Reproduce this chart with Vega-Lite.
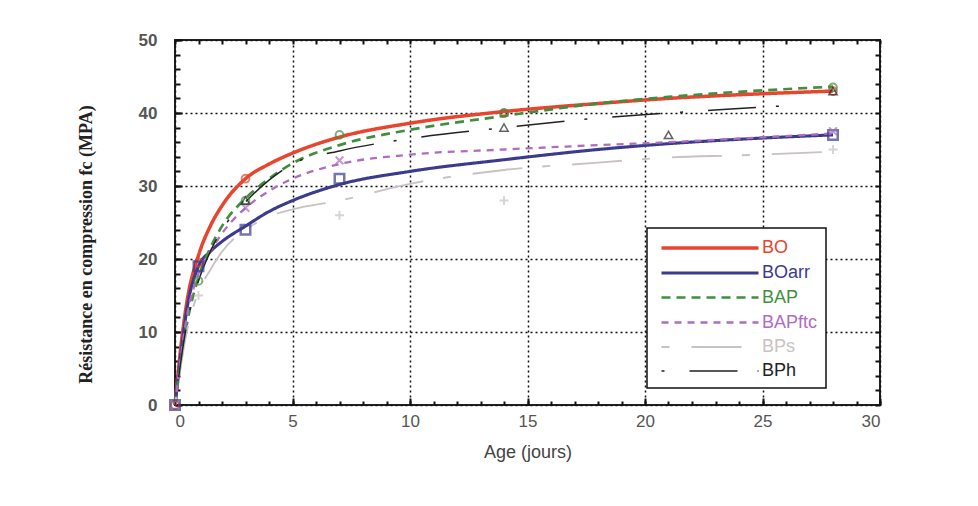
{
  "$schema": "https://vega.github.io/schema/vega-lite/v6.json",
  "autosize": {"type": "none"},
  "padding": {"left": 175, "top": 40, "right": 98, "bottom": 101},
  "width": 705,
  "height": 365,
  "background": "white",
  "config": {"view": {"stroke": "#222", "strokeWidth": 2}},
  "datasets": {
    "curves": [
      {"series": "BO", "t": 0, "v": 0}, {"series": "BO", "t": 0.25, "v": 8}, {"series": "BO", "t": 0.5, "v": 14}, {"series": "BO", "t": 1, "v": 20.5}, {"series": "BO", "t": 1.5, "v": 24.5}, {"series": "BO", "t": 2, "v": 27.3}, {"series": "BO", "t": 3, "v": 31}, {"series": "BO", "t": 4, "v": 33}, {"series": "BO", "t": 5, "v": 34.5}, {"series": "BO", "t": 7, "v": 36.7}, {"series": "BO", "t": 10, "v": 38.6}, {"series": "BO", "t": 14, "v": 40.2}, {"series": "BO", "t": 18, "v": 41.3}, {"series": "BO", "t": 21, "v": 42}, {"series": "BO", "t": 24, "v": 42.5}, {"series": "BO", "t": 28, "v": 43},
      {"series": "BOarr", "t": 0, "v": 0}, {"series": "BOarr", "t": 0.25, "v": 7}, {"series": "BOarr", "t": 0.5, "v": 13}, {"series": "BOarr", "t": 1, "v": 19}, {"series": "BOarr", "t": 1.5, "v": 21}, {"series": "BOarr", "t": 2, "v": 22.4}, {"series": "BOarr", "t": 3, "v": 24.5}, {"series": "BOarr", "t": 4, "v": 26.5}, {"series": "BOarr", "t": 5, "v": 28}, {"series": "BOarr", "t": 7, "v": 30.2}, {"series": "BOarr", "t": 10, "v": 32}, {"series": "BOarr", "t": 14, "v": 33.6}, {"series": "BOarr", "t": 18, "v": 35}, {"series": "BOarr", "t": 21, "v": 35.8}, {"series": "BOarr", "t": 24, "v": 36.4}, {"series": "BOarr", "t": 28, "v": 37},
      {"series": "BAP", "t": 0, "v": 0}, {"series": "BAP", "t": 0.25, "v": 6}, {"series": "BAP", "t": 0.5, "v": 11}, {"series": "BAP", "t": 1, "v": 17.5}, {"series": "BAP", "t": 1.5, "v": 21.5}, {"series": "BAP", "t": 2, "v": 24.5}, {"series": "BAP", "t": 3, "v": 28.3}, {"series": "BAP", "t": 4, "v": 31}, {"series": "BAP", "t": 5, "v": 33.1}, {"series": "BAP", "t": 7, "v": 35.6}, {"series": "BAP", "t": 10, "v": 37.7}, {"series": "BAP", "t": 14, "v": 39.6}, {"series": "BAP", "t": 18, "v": 41.3}, {"series": "BAP", "t": 21, "v": 42.2}, {"series": "BAP", "t": 24, "v": 42.9}, {"series": "BAP", "t": 28, "v": 43.6},
      {"series": "BAPftc", "t": 0, "v": 0}, {"series": "BAPftc", "t": 0.5, "v": 12}, {"series": "BAPftc", "t": 1, "v": 18}, {"series": "BAPftc", "t": 1.5, "v": 21}, {"series": "BAPftc", "t": 2, "v": 23.5}, {"series": "BAPftc", "t": 3, "v": 27}, {"series": "BAPftc", "t": 4, "v": 29.3}, {"series": "BAPftc", "t": 5, "v": 31}, {"series": "BAPftc", "t": 7, "v": 33}, {"series": "BAPftc", "t": 10, "v": 34.3}, {"series": "BAPftc", "t": 14, "v": 35}, {"series": "BAPftc", "t": 18, "v": 35.6}, {"series": "BAPftc", "t": 21, "v": 36}, {"series": "BAPftc", "t": 24, "v": 36.5}, {"series": "BAPftc", "t": 28, "v": 37.2},
      {"series": "BPs", "t": 0, "v": 0}, {"series": "BPs", "t": 0.5, "v": 10}, {"series": "BPs", "t": 1, "v": 15.5}, {"series": "BPs", "t": 1.5, "v": 18.5}, {"series": "BPs", "t": 2, "v": 21}, {"series": "BPs", "t": 3, "v": 24}, {"series": "BPs", "t": 4, "v": 25.8}, {"series": "BPs", "t": 5, "v": 26.8}, {"series": "BPs", "t": 7, "v": 28}, {"series": "BPs", "t": 10, "v": 30.3}, {"series": "BPs", "t": 14, "v": 32.2}, {"series": "BPs", "t": 18, "v": 33.2}, {"series": "BPs", "t": 21, "v": 33.9}, {"series": "BPs", "t": 24, "v": 34.2}, {"series": "BPs", "t": 28, "v": 34.7},
      {"series": "BPh", "t": 0, "v": 0}, {"series": "BPh", "t": 0.5, "v": 11}, {"series": "BPh", "t": 1, "v": 17}, {"series": "BPh", "t": 1.5, "v": 21}, {"series": "BPh", "t": 2, "v": 24}, {"series": "BPh", "t": 3, "v": 27.8}, {"series": "BPh", "t": 4, "v": 30.8}, {"series": "BPh", "t": 5, "v": 33}, {"series": "BPh", "t": 7, "v": 34.8}, {"series": "BPh", "t": 10, "v": 36.5}, {"series": "BPh", "t": 14, "v": 38}, {"series": "BPh", "t": 18, "v": 39.3}, {"series": "BPh", "t": 21, "v": 40}, {"series": "BPh", "t": 24, "v": 40.6}, {"series": "BPh", "t": 26.5, "v": 41.1}
    ],
    "points": [
      {"series": "BO", "t": 0, "v": 0}, {"series": "BO", "t": 1, "v": 19.5}, {"series": "BO", "t": 3, "v": 31}, {"series": "BO", "t": 14, "v": 40}, {"series": "BO", "t": 28, "v": 43},
      {"series": "BOarr", "t": 0, "v": 0}, {"series": "BOarr", "t": 1, "v": 19}, {"series": "BOarr", "t": 3, "v": 24}, {"series": "BOarr", "t": 7, "v": 31}, {"series": "BOarr", "t": 28, "v": 37},
      {"series": "BAP", "t": 1, "v": 17}, {"series": "BAP", "t": 3, "v": 28}, {"series": "BAP", "t": 7, "v": 37}, {"series": "BAP", "t": 14, "v": 40}, {"series": "BAP", "t": 28, "v": 43.5},
      {"series": "BAPftc", "t": 3, "v": 27}, {"series": "BAPftc", "t": 7, "v": 33.5}, {"series": "BAPftc", "t": 28, "v": 37.5},
      {"series": "BPs", "t": 1, "v": 15}, {"series": "BPs", "t": 7, "v": 26}, {"series": "BPs", "t": 14, "v": 28}, {"series": "BPs", "t": 28, "v": 35},
      {"series": "BPh", "t": 3, "v": 28}, {"series": "BPh", "t": 14, "v": 38}, {"series": "BPh", "t": 21, "v": 37}, {"series": "BPh", "t": 28, "v": 43}
    ]
  },
  "layer": [
    {
      "data": {"name": "curves"},
      "mark": {"type": "line", "interpolate": "monotone"},
      "encoding": {
        "x": {"field": "t", "type": "quantitative", "scale": {"domain": [0, 30], "nice": false},
          "axis": {"values": [0, 5, 10, 15, 20, 25, 30], "title": "Age (jours)", "grid": true, "gridColor": "#111", "gridDash": [2, 3], "gridWidth": 1.5, "tickSize": -7, "tickWidth": 2, "tickColor": "#111", "domain": false, "labelFont": "Liberation Sans", "labelFontSize": 17, "labelColor": "#555", "labelPadding": 15, "titleFont": "Liberation Sans", "titleFontSize": 18, "titleFontWeight": "normal", "titleColor": "#444", "titlePadding": 14}},
        "y": {"field": "v", "type": "quantitative", "scale": {"domain": [0, 50], "nice": false},
          "axis": {"values": [0, 10, 20, 30, 40, 50], "title": "Résistance en compression fc (MPA)", "grid": true, "gridColor": "#111", "gridDash": [2, 3], "gridWidth": 1.5, "tickSize": -7, "tickWidth": 2, "tickColor": "#111", "domain": false, "labelFont": "Liberation Sans", "labelFontSize": 17, "labelFontWeight": "bold", "labelColor": "#555", "labelPadding": 25, "titleFont": "Liberation Serif", "titleFontSize": 18, "titleFontWeight": "bold", "titleColor": "#222", "titleX": -80, "titleY": 204}},
        "color": {"field": "series", "type": "nominal",
          "scale": {"domain": ["BO", "BOarr", "BAP", "BAPftc", "BPs", "BPh"], "range": ["#e8452f", "#3b3b8e", "#3f8f3f", "#b06cc0", "#c9c2c2", "#222222"]},
          "legend": {"orient": "none", "legendX": 472, "legendY": 188, "title": null, "symbolType": "M-4.85,0L4.85,0", "symbolSize": 400, "symbolStrokeWidth": 2.5, "symbolOffset": 43, "labelFont": "Liberation Sans", "labelFontSize": 18, "rowPadding": 4, "padding": 8, "strokeColor": "#111", "fillColor": "white", "labelOffset": 40, "labelExpr": "datum.label + '\u00a0\u00a0\u00a0\u00a0'",
            "encode": {"labels": {"update": {"fill": {"scale": "color", "field": "value"}}}, "legend": {"update": {"strokeWidth": {"value": 1.5}}}}}},
        "strokeDash": {"field": "series", "type": "nominal",
          "scale": {"domain": ["BO", "BOarr", "BAP", "BAPftc", "BPs", "BPh"], "range": [[1, 0], [1, 0], [9, 6], [7, 6], [8, 22, 50, 20], [3, 25, 48, 20]]},
          "legend": {"orient": "none", "legendX": 472, "legendY": 188, "title": null}},
        "strokeWidth": {"field": "series", "type": "nominal",
          "scale": {"domain": ["BO", "BOarr", "BAP", "BAPftc", "BPs", "BPh"], "range": [3.5, 1.5, 2.8, 1.6, 2.8, 2]},
          "legend": {"orient": "none", "legendX": 472, "legendY": 188, "title": null}}
      }
    },
    {
      "data": {"name": "points"},
      "transform": [{"filter": "datum.series === 'BO' || datum.series === 'BAP'"}],
      "mark": {"type": "point", "shape": "circle", "filled": false, "strokeWidth": 2, "size": 60},
      "encoding": {
        "x": {"field": "t", "type": "quantitative", "axis": null},
        "y": {"field": "v", "type": "quantitative", "axis": null},
        "color": {"field": "series", "type": "nominal", "legend": null}
      }
    },
    {
      "data": {"name": "points"},
      "transform": [{"filter": "datum.series === 'BOarr'"}],
      "mark": {"type": "point", "shape": "square", "filled": false, "strokeWidth": 2.5, "size": 90},
      "encoding": {
        "x": {"field": "t", "type": "quantitative", "axis": null},
        "y": {"field": "v", "type": "quantitative", "axis": null},
        "color": {"field": "series", "type": "nominal", "legend": null}
      }
    },
    {
      "data": {"name": "points"},
      "transform": [{"filter": "datum.series === 'BAPftc'"}],
      "mark": {"type": "point", "shape": "M-1,-1L1,1M-1,1L1,-1", "filled": false, "strokeWidth": 2, "size": 60},
      "encoding": {
        "x": {"field": "t", "type": "quantitative", "axis": null},
        "y": {"field": "v", "type": "quantitative", "axis": null},
        "color": {"field": "series", "type": "nominal", "legend": null}
      }
    },
    {
      "data": {"name": "points"},
      "transform": [{"filter": "datum.series === 'BPs'"}],
      "mark": {"type": "point", "shape": "M-1,0L1,0M0,-1L0,1", "filled": false, "strokeWidth": 2, "size": 80},
      "encoding": {
        "x": {"field": "t", "type": "quantitative", "axis": null},
        "y": {"field": "v", "type": "quantitative", "axis": null},
        "color": {"field": "series", "type": "nominal", "legend": null}
      }
    },
    {
      "data": {"name": "points"},
      "transform": [{"filter": "datum.series === 'BPh'"}],
      "mark": {"type": "point", "shape": "triangle-up", "filled": false, "strokeWidth": 1.5, "size": 70},
      "encoding": {
        "x": {"field": "t", "type": "quantitative", "axis": null},
        "y": {"field": "v", "type": "quantitative", "axis": null},
        "color": {"field": "series", "type": "nominal", "legend": null}
      }
    },
    {
      "data": {"name": "points"},
      "mark": {"type": "point", "opacity": 0},
      "encoding": {
        "x": {"field": "t", "type": "quantitative", "axis": {"orient": "top", "values": [0,1,2,3,4,5,6,7,8,9,10,11,12,13,14,15,16,17,18,19,20,21,22,23,24,25,26,27,28,29,30], "labels": false, "title": null, "grid": false, "domain": false, "tickSize": -4, "tickWidth": 2, "tickColor": "#111"}},
        "y": {"field": "v", "type": "quantitative", "axis": {"orient": "right", "values": [0,2,4,6,8,10,12,14,16,18,20,22,24,26,28,30,32,34,36,38,40,42,44,46,48,50], "labels": false, "title": null, "grid": false, "domain": false, "tickSize": -5, "tickWidth": 2, "tickColor": "#111"}}
      }
    },
    {
      "data": {"name": "points"},
      "mark": {"type": "point", "opacity": 0},
      "encoding": {
        "x": {"field": "t", "type": "quantitative", "axis": {"orient": "bottom", "values": [0,1,2,3,4,5,6,7,8,9,10,11,12,13,14,15,16,17,18,19,20,21,22,23,24,25,26,27,28,29,30], "labels": false, "title": null, "grid": false, "domain": false, "tickSize": -4, "tickWidth": 2, "tickColor": "#111"}},
        "y": {"field": "v", "type": "quantitative", "axis": {"orient": "left", "values": [0,2,4,6,8,10,12,14,16,18,20,22,24,26,28,30,32,34,36,38,40,42,44,46,48,50], "labels": false, "title": null, "grid": false, "domain": false, "tickSize": -5, "tickWidth": 2, "tickColor": "#111"}}
      }
    }
  ],
  "resolve": {"axis": {"x": "independent", "y": "independent"}}
}
